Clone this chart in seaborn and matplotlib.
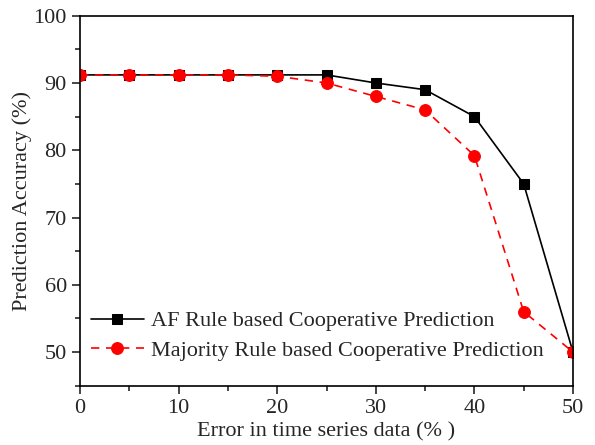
import matplotlib
matplotlib.use("Agg")
import matplotlib.pyplot as plt
import seaborn as sns
import pandas as pd
from matplotlib.ticker import MultipleLocator

error_pct = [0, 5, 10, 15, 20, 25, 30, 35, 40, 45, 50]
af_rule = [91.2, 91.2, 91.2, 91.2, 91.2, 91.2, 90.0, 89.0, 85.0, 75.0, 50.0]
majority_rule = [91.2, 91.2, 91.2, 91.2, 91.0, 90.0, 88.0, 86.0, 79.2, 56.0, 50.0]
labels = ["AF Rule based Cooperative Prediction",
          "Majority Rule based Cooperative Prediction"]

sns.set_style("ticks")
plt.rcParams['font.family'] = ['Liberation Serif', 'DejaVu Serif']
plt.rcParams['mathtext.fontset'] = 'stix'

fig = plt.figure(figsize=(5.95, 4.45), dpi=100)
ax = fig.add_axes([80/595, 1 - 385.7/445, (573-80)/595, (385.7-15.7)/445])

df1 = pd.DataFrame({"x": error_pct, "y": af_rule})
df2 = pd.DataFrame({"x": error_pct, "y": majority_rule})
sns.lineplot(data=df1, x="x", y="y", ax=ax, color="black", lw=1.2,
             marker="s", markersize=7, markeredgecolor="black",
             label=labels[0])
sns.lineplot(data=df2, x="x", y="y", ax=ax, color="red", lw=1.2,
             linestyle=(0, (5, 4)), marker="o", markersize=8.5,
             markeredgecolor="red", label=labels[1])

ax.set_xlim(0, 50)
ax.set_ylim(45, 100)
ax.xaxis.set_major_locator(MultipleLocator(10))
ax.xaxis.set_minor_locator(MultipleLocator(5))
ax.yaxis.set_major_locator(MultipleLocator(10))
ax.yaxis.set_minor_locator(MultipleLocator(5))
ax.tick_params(axis='both', which='major', direction='out', length=6, width=1.2,
               labelsize=16, top=False, right=False)
ax.tick_params(axis='both', which='minor', direction='out', length=3.5, width=1.2,
               top=False, right=False)
for s in ax.spines.values():
    s.set_linewidth(1.2)
    s.set_color('black')

ax.set_xlabel("Error in time series data (% )", fontsize=16, labelpad=3)
ax.set_ylabel("Prediction Accuracy (%)", fontsize=16, labelpad=1)

leg = ax.legend(loc="lower left", bbox_to_anchor=(-0.01, 0.025), frameon=False,
                fontsize=16, handlelength=2.4, handletextpad=0.3,
                labelspacing=0.4, borderaxespad=0.3)

fig.savefig("out.png", dpi=100)
